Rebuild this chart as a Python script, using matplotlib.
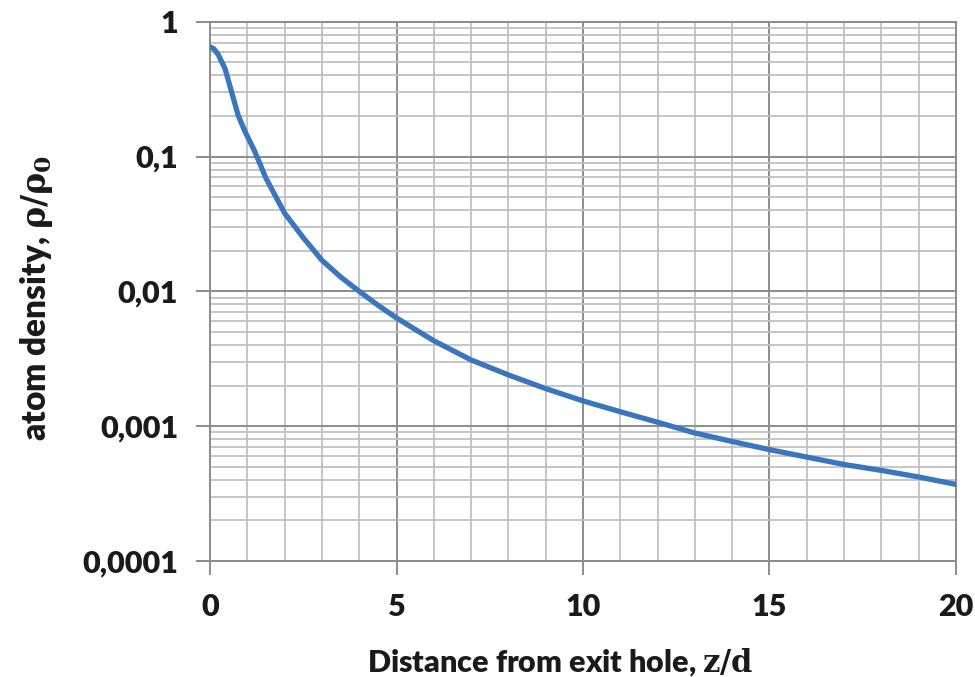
import numpy as np
import matplotlib
matplotlib.use("Agg")
import matplotlib.pyplot as plt
from matplotlib.ticker import LogLocator, MultipleLocator, NullFormatter

# Density profile along the jet axis
z_d = [0.0, 0.1, 0.22, 0.4, 0.58, 0.76, 0.94, 1.2, 1.5, 2.0, 2.5, 3.0, 3.5,
       4.0, 4.5, 5.0, 6.0, 7.0, 8.0, 9.0, 10.0, 11.0, 12.0, 13.0, 14.0,
       15.0, 16.0, 17.0, 18.0, 19.0, 20.0]
density = [0.65, 0.63, 0.57, 0.45, 0.30, 0.20, 0.153, 0.109, 0.069, 0.038,
           0.025, 0.0170, 0.0128, 0.0100, 0.0079, 0.00635, 0.0043, 0.0031,
           0.0024, 0.0019, 0.00154, 0.00128, 0.00107, 0.00089, 0.00077,
           0.00067, 0.00059, 0.00052, 0.00047, 0.00042, 0.00037]

y_ticks = [1e-4, 1e-3, 1e-2, 1e-1, 1]
y_labels = ["0,0001", "0,001", "0,01", "0,1", "1"]
x_ticks = [0, 5, 10, 15, 20]

plt.rcParams["font.family"] = ["Lato", "DejaVu Sans"]
plt.rcParams["mathtext.fontset"] = "dejavuserif"

fig = plt.figure(figsize=(9.75, 6.77), dpi=100)
ax = fig.add_axes([0.2154, 0.1713, 0.9805 - 0.2154, 0.968 - 0.1713])

ax.plot(z_d, density, color="#3a76bd", lw=3.8, solid_joinstyle="round",
        zorder=3)

ax.set_yscale("log")
ax.set_xlim(0, 20)
ax.set_ylim(1e-4, 1)

ax.set_yticks(y_ticks)
ax.set_yticklabels(y_labels)
ax.yaxis.set_minor_locator(LogLocator(base=10, subs=np.arange(2, 10)))
ax.yaxis.set_minor_formatter(NullFormatter())
ax.set_xticks(x_ticks)
ax.xaxis.set_minor_locator(MultipleLocator(1))

ax.grid(which="major", color="#8c8c8c", lw=1.4)
ax.grid(which="minor", color="#c0c0c4", lw=1.3)
ax.set_axisbelow(True)

for s in ax.spines.values():
    s.set_color("#8c8c8c")
    s.set_linewidth(1.4)

ax.tick_params(which="major", length=10, width=1.4, color="#8c8c8c",
               labelsize=22, pad=13)
ax.tick_params(which="minor", length=0)
for lab in ax.get_xticklabels() + ax.get_yticklabels():
    lab.set_fontweight("heavy")
    lab.set_color("#1a1a1a")

ax.set_xlabel(r"Distance from exit hole, $\mathbf{z/d}$", fontsize=22,
              fontweight="heavy", color="#1a1a1a")
ax.xaxis.set_label_coords(0.469, -0.158)
ax.set_ylabel(r"atom density, $\mathbf{\rho/\rho_0}$", fontsize=24,
              fontweight="heavy", color="#1a1a1a")
ax.yaxis.set_label_coords(-0.208, 0.487)

fig.savefig("out.png", dpi=100)
